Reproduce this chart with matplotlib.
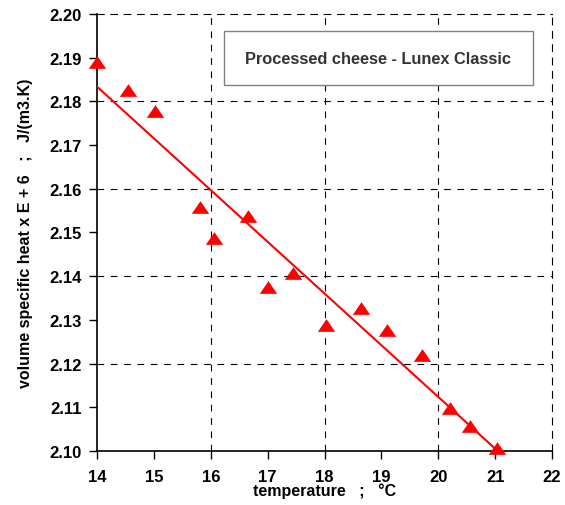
import matplotlib
matplotlib.use("Agg")
import matplotlib.pyplot as plt
from matplotlib.patches import Rectangle
import numpy as np

plt.rcParams['font.family'] = ['Liberation Sans', 'DejaVu Sans']

temperature = [14.00, 14.55, 15.02, 15.81, 16.06, 16.66, 17.01, 17.44,
               18.02, 18.65, 19.09, 19.72, 20.20, 20.56, 21.03]
heat_cap = [2.1890, 2.1827, 2.1777, 2.1559, 2.1487, 2.1537, 2.1376, 2.1408,
            2.1288, 2.1328, 2.1277, 2.1220, 2.1098, 2.1057, 2.1008]

x_ticks = [14, 15, 16, 17, 18, 19, 20, 21, 22]
y_ticks = [2.10, 2.11, 2.12, 2.13, 2.14, 2.15, 2.16, 2.17, 2.18, 2.19, 2.20]
x_grid = [16, 18, 20]
y_grid = [2.12, 2.14, 2.16, 2.18]

title = "Processed cheese - Lunex Classic"
xlabel = "temperature   ;   \u00b0C"
ylabel = "volume specific heat x E + 6   ;   J/(m3.K)"

fig = plt.figure(figsize=(5.65, 5.06), dpi=100)
ax = fig.add_axes([0.1717, 0.1067, 0.8053, 0.8637])

dash = (0, (6, 6))
for gx in x_grid:
    ax.axvline(gx, color='black', lw=0.8, ls=dash, zorder=1)
for gy in y_grid:
    ax.axhline(gy, color='black', lw=0.8, ls=dash, zorder=1)

# linear fit through the data
slope, icpt = np.polyfit(temperature, heat_cap, 1)
fx = np.array([min(temperature), max(temperature)])
ax.plot(fx, slope * fx + icpt, color='#ff0000', lw=1.5, zorder=3)

tri = [(-1, -0.73), (1, -0.73), (0, 0.73)]
ax.plot(temperature, heat_cap, ls='none', marker=tri, markersize=12.5,
        color='#ff0000', markeredgewidth=0, zorder=4, clip_on=False)

ax.set_xlim(14, 22)
ax.set_ylim(2.10, 2.20)
ax.set_xticks(x_ticks)
ax.set_yticks(y_ticks)
ax.set_xticklabels([str(v) for v in x_ticks], fontweight='bold', fontsize=12)
ax.set_yticklabels(["%.2f" % v for v in y_ticks], fontweight='bold', fontsize=12)
ax.tick_params(axis='x', direction='out', length=6, width=1, pad=7)
ax.tick_params(axis='y', direction='out', length=6, width=1, pad=5)

for s in ['left', 'bottom']:
    ax.spines[s].set_linewidth(1.2)
for s in ['top', 'right']:
    ax.spines[s].set_linewidth(0.8)
    ax.spines[s].set_linestyle(dash)

ax.set_xlabel(xlabel, fontweight='bold', fontsize=11.5, labelpad=-1)
ax.set_ylabel(ylabel, fontweight='bold', fontsize=11.5, labelpad=12)

# title box
ax.add_patch(Rectangle((0.279, 0.8375), 0.679, 0.1235, transform=ax.transAxes,
                       facecolor='white', edgecolor='#808080', lw=1, zorder=5))
ax.text(0.6185, 0.899, title, transform=ax.transAxes, ha='center', va='center',
        fontsize=11.8, fontweight='bold', color='#333333', zorder=6)

fig.savefig("out.png", dpi=100)
